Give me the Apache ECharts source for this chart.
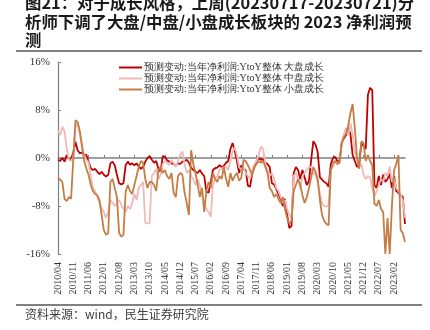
<!DOCTYPE html>
<html>
<head>
<meta charset="utf-8">
<script src="https://cdn.jsdelivr.net/npm/echarts@6/dist/echarts.min.js"></script>
<style>
html,body{margin:0;padding:0;background:#fff;}
#c{width:430px;height:330px;}
</style>
</head>
<body>
<div id="c"></div>
<script>
// Month categories 2010/04 .. 2023/07
const categories = [];
for (let y = 2010, m = 4; !(y === 2023 && m === 8); ) {
  categories.push(y + '/' + (m < 10 ? '0' + m : m));
  m++; if (m > 12) { m = 1; y++; }
}

const seriesNames = [
  '预测变动:当年净利润:YtoY整体 大盘成长',
  '预测变动:当年净利润:YtoY整体 中盘成长',
  '预测变动:当年净利润:YtoY整体 小盘成长'
];

const largeGrowth = [
  -0.3, -0.5, 0.0, -0.6, 0.5, -0.2, -0.2, 1.0, 2.7, 1.3,
  0.8, 0.9, 0.6, 0.5, -0.6, -1.7, -2.0, -1.8, -2.3, -2.7,
  -2.3, -2.8, -3.1, -2.8, -0.9, -0.6, -1.2, -2.8, -4.2, -4.4,
  -4.2, -1.2, -0.6, -1.1, -0.9, -1.2, -0.9, -1.4, -1.8, -1.5,
  -0.6, 0.0, 0.3, -0.3, -0.8, -0.5, -1.8, -2.3, 0.3, 0.2,
  -0.4, -0.6, -0.9, -1.0, -1.2, -0.9, -1.0, -0.6, -0.5, -0.3,
  -0.8, -1.6, -2.0, -2.3, -2.5, -2.0, -2.6, -3.0, -5.6, -5.8,
  -4.0, -2.0, -1.7, -1.6, -1.2, -1.5, -1.3, -0.8, -0.5, 1.5,
  2.5, 1.2, -0.5, -2.5, -1.2, -1.8, -2.0, -4.6, -4.8, -2.5,
  -1.5, -0.5, 0.0, -0.3, -0.2, -0.8, -1.0, -1.5, -4.2, -4.4,
  -5.2, -6.0, -6.8, -8.0, -6.8, -9.5, -11.7, -11.3, -2.5, -1.5,
  -2.0, -3.5, -2.0, -3.2, -4.5, -3.8, -0.3, 2.8, 2.2, 1.0,
  -3.2, -3.6, -4.0, -4.2, -4.8, -1.0, 0.0, 0.2, -0.5, -0.6,
  2.5, 3.3, 3.8, 5.0, 4.0, 0.5, -0.5, -1.5, -1.0, 2.5,
  2.0, 1.5, 10.5, 11.7, 11.3, -4.5, -5.0, -3.0, -4.5, -2.8,
  -4.0, -3.5, -2.6, -5.0, -3.0, -5.5, -5.8, -6.2, -6.5, -11.0
];

const midGrowth = [
  4.5, 3.8, 5.2, 4.5, 1.5, -0.3, -0.5, 0.2, 5.0, 5.8,
  4.0, 2.0, 0.5, -0.3, -0.7, -3.0, -5.0, -5.5, -6.5, -7.5,
  -8.4, -9.0, -10.0, -9.0, -7.0, -7.5, -8.0, -7.5, -7.0, -7.8,
  -8.5, -9.0, -8.0, -8.5, -7.5, -6.0, -7.0, -5.0, -4.5, -4.0,
  -10.8, -10.9, -10.8, -3.0, -2.5, -1.8, -3.5, -2.8, -1.0, -0.5,
  -0.8, -1.2, -0.3, -0.8, -1.5, -0.5, 0.5, 1.1, -1.0, -2.5,
  -2.0, -3.0, -3.5, -4.5, -3.5, -4.5, -6.0, -7.5, -8.5, -9.0,
  -9.8, -4.5, -3.5, -3.0, -2.0, -1.8, -1.5, -1.5, -2.0, -0.5,
  1.0, 1.8, 0.5, -1.5, -2.0, -1.5, -2.5, -3.0, -3.5, -2.0,
  -1.0, -0.5, 0.5, 1.9, 1.5, -1.0, -2.0, -3.0, -2.5, -3.5,
  -5.0, -5.5, -6.5, -7.5, -7.0, -8.5, -9.5, -10.0, -3.0, -2.5,
  -3.5, -5.0, -3.0, -2.5, -2.0, -1.5, -1.5, -2.5, -2.8, -4.0,
  -6.0, -7.6, -8.0, -8.1, -7.8, -2.0, -1.5, -0.5, -1.0, -0.8,
  2.5, 4.0, 5.0, 3.8, 5.8, 4.0, 1.0, 0.0, -1.5, -1.0,
  -2.8, -3.5, -3.0, -3.2, -5.0, -6.4, -5.5, -4.5, -3.5, -4.0,
  -2.5, -3.0, -1.4, -4.0, -3.5, -5.0, -5.5, -6.2, -7.0, -10.0
];

const smallGrowth = [
  -3.4, -3.6, -4.0, -6.8, -7.2, -6.5, -6.8, -0.2, 6.3, 6.0,
  4.5, 2.0, -0.5, -1.8, -2.8, -4.5, -5.5, -6.0, -6.2, -7.0,
  -9.5, -12.0, -12.8, -12.5, -4.0, -3.5, -5.0, -6.5, -12.5, -13.1,
  -12.8, -5.6, -4.5, -5.5, -6.0, -4.5, -3.0, -1.5, -0.5, -0.8,
  -3.5, -5.0, -4.0, -4.0, -4.5, -5.5, -2.0, -1.5, -2.5, -2.0,
  -3.0, -3.5, -2.5, -5.8, -6.5, -3.0, -2.5, -2.8, -5.8, -7.5,
  -9.5, 1.3, -1.0, -2.5, -4.5, -6.5, -5.0, -9.0, -5.5, -4.0,
  -5.0, -2.5, -3.5, -4.0, -3.0, -3.5, -1.5, -3.5, -4.8, -2.5,
  -3.8, -3.0, -2.5, -3.8, -3.3, -0.3, -0.5, -1.2, -2.0, -2.8,
  -1.5, -1.0, -0.5, -0.8, -0.5, -1.5, -2.5, -5.0, -5.5, -6.5,
  -6.0, -6.8, -7.5, -6.5, -8.5, -10.0, -10.9, -10.5, -5.5, -4.5,
  -3.5, -4.5, -6.2, -7.5, -6.5, -5.0, -3.2, -1.5, -2.3, -3.5,
  -7.0, -9.5, -10.5, -11.0, -11.2, -2.0, -0.8, -0.5, -1.0, -0.8,
  2.5, 3.5, 4.0, 5.5, 7.5, 9.0, 5.0, 0.0, -1.8, 2.8,
  2.5, -0.5, 0.5, -0.5, -1.2, -7.6, -8.0, -7.0, -8.5, -9.0,
  -16.0, -10.0, -16.0, -8.0, -2.0, -1.0, 0.5, -12.0, -12.5, -14.0
];

const yTicks = { min: -16, max: 16, interval: 8 };

const titleLines = [
  '图21：对于成长风格，上周(20230717-20230721)分',
  '析师下调了大盘/中盘/小盘成长板块的 2023 净利润预',
  '测'
];
const sourceText = '资料来源：wind，民生证券研究院';

const colors = ['#C00000', '#F0B9B9', '#C47D45'];
const serif = '"Liberation Serif", "Times New Roman", serif';

const chart = echarts.init(document.getElementById('c'));
chart.setOption({
  animation: false,
  backgroundColor: '#ffffff',
  color: colors,
  grid: { left: 58, right: 25, top: 62, bottom: 76 },
  legend: {
    orient: 'vertical',
    left: 119, top: 62,
    icon: 'rect',
    itemWidth: 23, itemHeight: 2, itemGap: 0,
    padding: 0,
    textStyle: { fontFamily: serif, fontSize: 10, lineHeight: 11, color: '#333', padding: [0, 0, 0, -3] },
    data: seriesNames
  },
  xAxis: [
    {
      type: 'category', data: categories, boundaryGap: false,
      axisLine: { show: false, onZero: false },
      axisTick: { show: false },
      splitLine: { show: false },
      axisLabel: { interval: 6, rotate: 90, margin: 8, fontFamily: serif, fontSize: 10, color: '#333' }
    },
    {
      type: 'category', data: categories, boundaryGap: false, position: 'bottom',
      axisLine: { show: true, onZero: true, lineStyle: { color: '#808080', width: 1.5 } },
      axisTick: { show: true, inside: true, interval: 6, length: 3, lineStyle: { color: '#808080' } },
      axisLabel: { show: false },
      splitLine: { show: false }
    }
  ],
  yAxis: {
    type: 'value', min: yTicks.min, max: yTicks.max, interval: yTicks.interval,
    axisLine: { show: true, lineStyle: { color: '#808080', width: 1.2 } },
    axisTick: { show: true, inside: true, length: 3, lineStyle: { color: '#808080' } },
    splitLine: { show: false },
    axisLabel: { formatter: '{value}%', margin: 8, fontFamily: serif, fontSize: 11, color: '#333' }
  },
  series: [
    { name: seriesNames[0], type: 'line', data: largeGrowth, symbol: 'none', lineStyle: { width: 1.8, color: colors[0] }, itemStyle: { color: colors[0] } },
    { name: seriesNames[1], type: 'line', data: midGrowth, symbol: 'none', lineStyle: { width: 1.8, color: colors[1] }, itemStyle: { color: colors[1] } },
    { name: seriesNames[2], type: 'line', data: smallGrowth, symbol: 'none', lineStyle: { width: 1.8, color: colors[2] }, itemStyle: { color: colors[2] } }
  ],
  graphic: [
    { type: 'text', left: 25, top: -5, style: { text: titleLines[0], font: 'bold 16.4px "Noto Sans CJK SC"', fill: '#1a1a1a' } },
    { type: 'text', left: 25, top: 13.5, style: { text: titleLines[1], font: 'bold 16.4px "Noto Sans CJK SC"', fill: '#1a1a1a' } },
    { type: 'text', left: 25, top: 32, style: { text: titleLines[2], font: 'bold 16.4px "Noto Sans CJK SC"', fill: '#1a1a1a' } },
    { type: 'line', shape: { x1: 16, y1: 51, x2: 422, y2: 51 }, style: { stroke: '#808080', lineWidth: 2 } },
    { type: 'line', shape: { x1: 16, y1: 305, x2: 422, y2: 305 }, style: { stroke: '#808080', lineWidth: 2 } },
    { type: 'text', left: 25, top: 308, style: { text: sourceText, font: '12px "Noto Sans CJK SC"', fill: '#404040' } }
  ]
});
</script>
</body>
</html>
